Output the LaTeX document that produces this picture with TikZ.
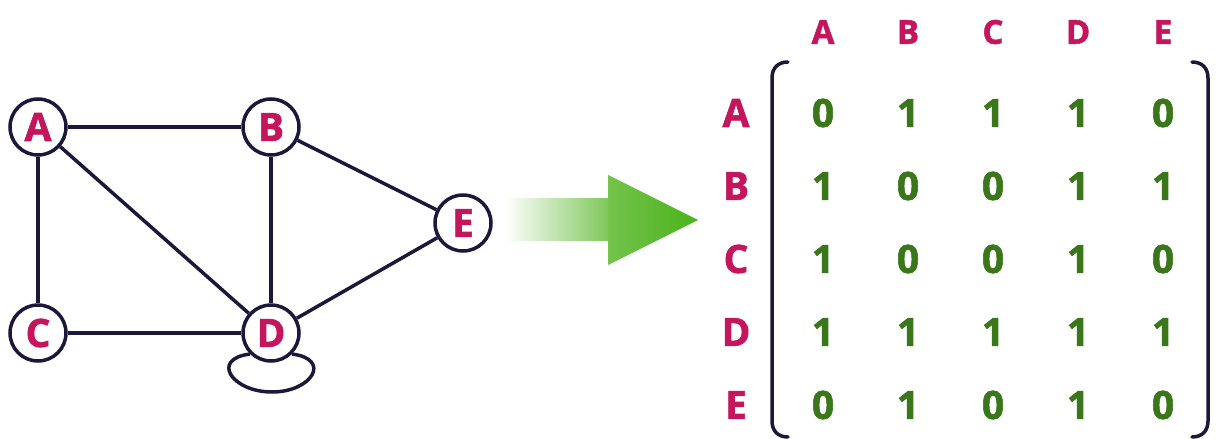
\documentclass[tikz,border=0pt]{standalone}
\usepackage{fontspec}
\setmainfont{Open Sans}[BoldFeatures={FakeBold=1.6}]
\usetikzlibrary{calc}
\definecolor{labelcol}{RGB}{196,22,92}
\definecolor{numcol}{RGB}{58,118,26}
\definecolor{edgecol}{RGB}{28,24,60}
\definecolor{arrowgreen}{RGB}{76,178,26}
\tikzset{
 vertex/.style={circle,draw=edgecol,line width=3.5pt,fill=white,minimum size=56pt,inner sep=0pt,
   text=labelcol,font=\fontsize{39}{39}\selectfont\bfseries},
 edge/.style={draw=edgecol,line width=3.5pt},
 bracket/.style={draw=edgecol,line width=3.5pt,line cap=round},
 entry/.style={inner sep=0pt,text=numcol,font=\fontsize{39}{39}\selectfont\bfseries},
 rowlab/.style={inner sep=0pt,text=labelcol,font=\fontsize{39}{39}\selectfont\bfseries},
 collab/.style={inner sep=0pt,text=labelcol,font=\fontsize{33}{33}\selectfont\bfseries}
}
\begin{document}
\begin{tikzpicture}[x=1pt,y=-1pt]
 \useasboundingbox (0,0) rectangle (1216,439);
 % graph
 \node[vertex] (A) at (38,127) {A};
 \node[vertex] (B) at (271,127) {B};
 \node[vertex] (C) at (38,333) {C};
 \node[vertex] (D) at (271,333) {D};
 \node[vertex] (E) at (463,223) {E};
 \draw[edge] (A)--(B);
 \draw[edge] (A)--(C);
 \draw[edge] (A)--(D);
 \draw[edge] (B)--(D);
 \draw[edge] (B)--(E);
 \draw[edge] (C)--(D);
 \draw[edge] (D)--(E);
 \draw[edge] (D.-135) .. controls +(-40,5) and +(-40,0) .. ($(D)+(1,59)$)
   .. controls +(40,0) and +(40,5) .. (D.-45);
 % arrow
 \shade[left color=white,right color=arrowgreen!72] (505,198) rectangle (609,240);
 \shade[left color=arrowgreen!78,right color=arrowgreen] (608,175) -- (698,220) -- (608,265) -- cycle;
 % matrix
 \foreach \name [count=\i] in {A,B,C,D,E} {
  \node[collab] (col\name) at ({738+85*\i},32) {\name};
  \node[rowlab] (row\name) at (736,{40+73*\i}) {\name};
 }
 \foreach \r [count=\i] in {{0,1,1,1,0},{1,0,0,1,1},{1,0,0,1,0},{1,1,1,1,1},{0,1,0,1,0}} {
  \foreach \v [count=\j] in \r
   \node[entry] (m-\i-\j) at ({738+85*\j},{40+73*\i}) {\v};
 }
 \draw[bracket] (788,62) .. controls (778,62) and (772,68) .. (772,78) -- (772,421)
   .. controls (772,431) and (778,437) .. (788,437);
 \draw[bracket] (1192,62) .. controls (1202,62) and (1208,68) .. (1208,78) -- (1208,421)
   .. controls (1208,431) and (1202,437) .. (1192,437);
\end{tikzpicture}
\end{document}
